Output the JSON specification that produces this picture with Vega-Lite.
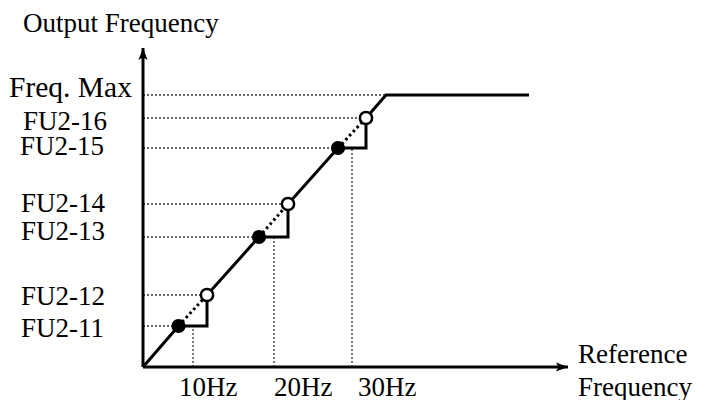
{
  "$schema": "https://vega.github.io/schema/vega-lite/v6.json",
  "autosize": "none",
  "width": 425,
  "height": 319,
  "padding": {"left": 143, "top": 48, "right": 142, "bottom": 33},
  "background": "white",
  "config": {"view": {"stroke": null}},
  "datasets": {
    "segments": [
      {"kind": "axis", "x": 0, "y": 0, "x2": 0, "y2": 319},
      {"kind": "axis", "x": 0, "y": 0, "x2": 425, "y2": 0},
      {"kind": "guide", "x": 0, "y": 41, "x2": 35.5, "y2": 41},
      {"kind": "guide", "x": 0, "y": 72, "x2": 64, "y2": 72},
      {"kind": "guide", "x": 0, "y": 130, "x2": 116, "y2": 130},
      {"kind": "guide", "x": 0, "y": 163, "x2": 145, "y2": 163},
      {"kind": "guide", "x": 0, "y": 219, "x2": 195, "y2": 219},
      {"kind": "guide", "x": 0, "y": 249, "x2": 223, "y2": 249},
      {"kind": "guide", "x": 0, "y": 272, "x2": 243, "y2": 272},
      {"kind": "guide", "x": 50, "y": 0, "x2": 50, "y2": 41},
      {"kind": "guide", "x": 131, "y": 0, "x2": 131, "y2": 130},
      {"kind": "guide", "x": 209, "y": 0, "x2": 209, "y2": 219},
      {"kind": "dotted", "x": 35.5, "y": 41, "x2": 64, "y2": 72},
      {"kind": "dotted", "x": 116, "y": 130, "x2": 145, "y2": 163},
      {"kind": "dotted", "x": 195, "y": 219, "x2": 223, "y2": 249}
    ],
    "path": [
      {"seq": 0, "x": 0, "y": 0},
      {"seq": 1, "x": 35.5, "y": 41},
      {"seq": 2, "x": 64, "y": 41},
      {"seq": 3, "x": 64, "y": 72},
      {"seq": 4, "x": 116, "y": 130},
      {"seq": 5, "x": 145, "y": 130},
      {"seq": 6, "x": 145, "y": 163},
      {"seq": 7, "x": 195, "y": 219},
      {"seq": 8, "x": 223, "y": 219},
      {"seq": 9, "x": 223, "y": 249},
      {"seq": 10, "x": 243, "y": 272},
      {"seq": 11, "x": 386, "y": 272}
    ],
    "markers": [
      {"state": "closed", "x": 35.5, "y": 41},
      {"state": "closed", "x": 116, "y": 130},
      {"state": "closed", "x": 195, "y": 219},
      {"state": "open", "x": 64, "y": 72},
      {"state": "open", "x": 145, "y": 163},
      {"state": "open", "x": 223, "y": 249}
    ],
    "arrows": [
      {"dir": "up", "x": 0, "y": 313},
      {"dir": "right", "x": 419, "y": 0}
    ],
    "labels": [
      {"text": "Output Frequency", "x": -120, "y": 335},
      {"text": "Freq. Max", "x": -134, "y": 270},
      {"text": "FU2-16", "x": -120, "y": 237},
      {"text": "FU2-15", "x": -123, "y": 212},
      {"text": "FU2-14", "x": -122, "y": 155},
      {"text": "FU2-13", "x": -122, "y": 127},
      {"text": "FU2-12", "x": -122, "y": 62},
      {"text": "FU2-11", "x": -122, "y": 30},
      {"text": "10Hz", "x": 36, "y": -29},
      {"text": "20Hz", "x": 131, "y": -29},
      {"text": "30Hz", "x": 215, "y": -29},
      {"text": "Reference", "x": 435, "y": 4},
      {"text": "Frequency", "x": 435, "y": -29}
    ]
  },
  "encoding": {
    "x": {"field": "x", "type": "quantitative", "scale": {"domain": [0, 425], "nice": false, "zero": false}, "axis": null},
    "y": {"field": "y", "type": "quantitative", "scale": {"domain": [0, 319], "nice": false, "zero": false}, "axis": null}
  },
  "layer": [
    {
      "data": {"name": "segments"},
      "transform": [{"filter": "datum.kind === 'guide'"}],
      "mark": {"type": "rule", "color": "#333", "strokeWidth": 1.3, "strokeDash": [2, 2]},
      "encoding": {"x2": {"field": "x2"}, "y2": {"field": "y2"}}
    },
    {
      "data": {"name": "segments"},
      "transform": [{"filter": "datum.kind === 'dotted'"}],
      "mark": {"type": "rule", "color": "#000", "strokeWidth": 3, "strokeDash": [2.5, 3]},
      "encoding": {"x2": {"field": "x2"}, "y2": {"field": "y2"}}
    },
    {
      "data": {"name": "segments"},
      "transform": [{"filter": "datum.kind === 'axis'"}],
      "mark": {"type": "rule", "color": "#000", "strokeWidth": 3},
      "encoding": {"x2": {"field": "x2"}, "y2": {"field": "y2"}}
    },
    {
      "data": {"name": "path"},
      "mark": {"type": "line", "color": "#000", "strokeWidth": 3, "strokeJoin": "miter", "strokeCap": "butt"},
      "encoding": {"order": {"field": "seq", "type": "quantitative"}}
    },
    {
      "data": {"name": "arrows"},
      "mark": {"type": "point", "filled": true, "color": "#000", "size": 150, "opacity": 1},
      "encoding": {
        "shape": {"field": "dir", "type": "nominal", "legend": null,
          "scale": {"domain": ["up", "right"], "range": ["M0,-1L0.75,1L0,0.55L-0.75,1Z", "M1,0L-1,0.75L-0.55,0L-1,-0.75Z"]}}
      }
    },
    {
      "data": {"name": "markers"},
      "transform": [{"filter": "datum.state === 'closed'"}],
      "mark": {"type": "point", "shape": "circle", "filled": true, "color": "#000", "size": 200, "opacity": 1}
    },
    {
      "data": {"name": "markers"},
      "transform": [{"filter": "datum.state === 'open'"}],
      "mark": {"type": "point", "shape": "circle", "filled": true, "fill": "#fff", "stroke": "#000", "strokeWidth": 2.5, "size": 150, "opacity": 1}
    },
    {
      "data": {"name": "labels"},
      "transform": [{"filter": "datum.text !== 'Freq. Max'"}],
      "mark": {"type": "text", "font": "Liberation Serif", "fontSize": 27, "align": "left", "baseline": "alphabetic", "color": "#000"},
      "encoding": {"text": {"field": "text"}}
    },
    {
      "data": {"name": "labels"},
      "transform": [{"filter": "datum.text === 'Freq. Max'"}],
      "mark": {"type": "text", "font": "Liberation Serif", "fontSize": 29.5, "align": "left", "baseline": "alphabetic", "color": "#000"},
      "encoding": {"text": {"field": "text"}}
    }
  ]
}
